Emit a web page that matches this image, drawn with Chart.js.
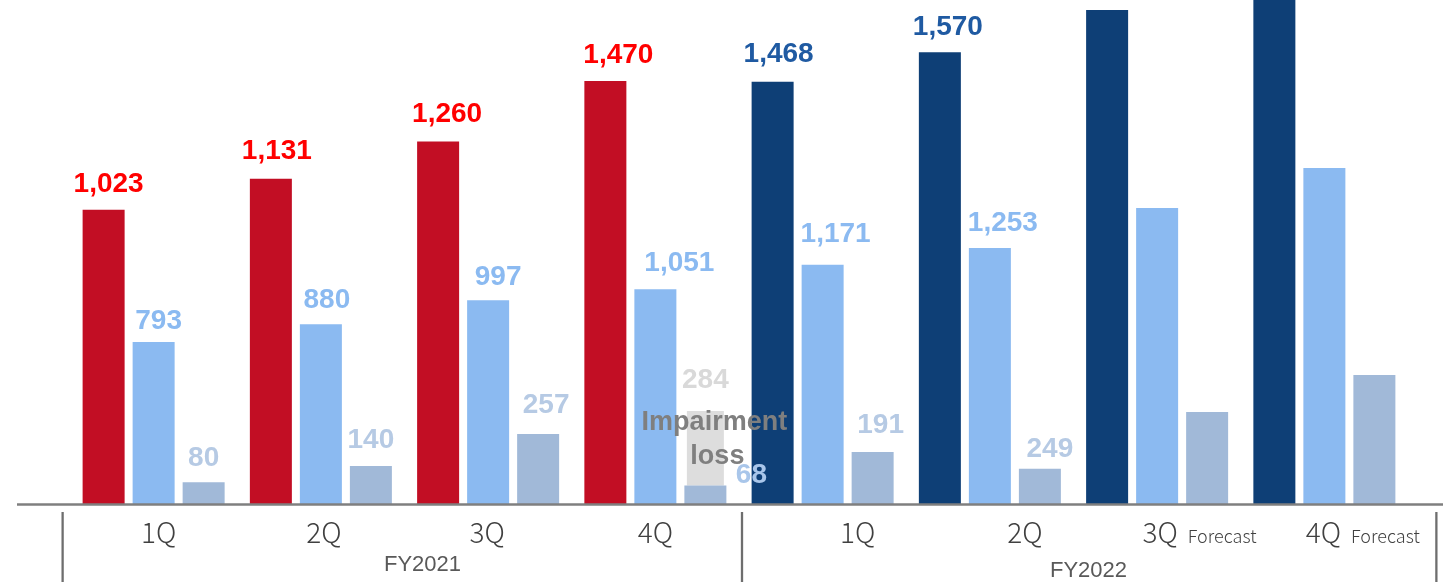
<!DOCTYPE html>
<html>
<head>
<meta charset="utf-8">
<script src="https://cdn.jsdelivr.net/npm/chart.js@4"></script>
<style>
  html, body { margin: 0; padding: 0; background: #fff; }
  #wrap { width: 1443px; height: 582px; position: relative; }
</style>
</head>
<body>
<div id="wrap"><canvas id="quarterChart"></canvas></div>
<script>
// quarters, FY2021 then FY2022
const quarters = ['1Q', '2Q', '3Q', '4Q', '1Q', '2Q', '3Q', '4Q'];
const forecast = [false, false, false, false, false, false, true, true];
const fiscalYears = ['FY2021', 'FY2022'];

// bar heights as drawn (forecast bars have no labels in the source)
const sales = [1023, 1131, 1260, 1470, 1468, 1570, 1717, 1800];
const grossProfit = [793, 880, 997, 1051, 1171, 1253, 1449, 1645];
// 2Q FY2022 bar is drawn much shorter than its 249 label in the source
const opIncome = [80, 140, 257, 68, 191, 130, 338, 474];
const impairment = [0, 0, 0, 274, 0, 0, 0, 0];

// texts printed above the bars
const salesText = ['1,023', '1,131', '1,260', '1,470', '1,468', '1,570', '', ''];
const grossText = ['793', '880', '997', '1,051', '1,171', '1,253', '', ''];
const opText = ['80', '140', '257', '68', '191', '249', '', ''];
const impairmentText = ['', '', '', '284', '', '', '', ''];

const RED = '#C20E24';
const NAVY = '#0E3F76';

const labelFont = 'bold 28px "Liberation Sans", Arial, sans-serif';

// the source labels are not centred exactly on their bars: [dx, gap above bar]
const labelNudge = {
  'Net sales': [[5, 18], [6, 20], [9, 20], [13, 18], [6, 20], [8, 17]],
  'Gross profit': [[5, 13], [6, 16], [10, 15], [24, 18], [13, 23], [13, 17]],
  'Operating income': [[0, 16], [0, 18], [8, 21], [46, 3], [8, 19], [10, 12]],
  'Impairment': [[0, 23], [0, 23], [0, 23], [0, 23]]
};

// value labels above bars
const valueLabels = {
  id: 'valueLabels',
  afterDatasetsDraw(chart) {
    const ctx = chart.ctx;
    ctx.save();
    ctx.font = labelFont;
    ctx.textAlign = 'center';
    ctx.textBaseline = 'alphabetic';
    chart.data.datasets.forEach((ds, di) => {
      const meta = chart.getDatasetMeta(di);
      meta.data.forEach((bar, i) => {
        const txt = ds.valueText[i];
        if (!txt) return;
        const [dx, gap] = labelNudge[ds.label][i] || [0, 16];
        ctx.fillStyle = typeof ds.textColor === 'function' ? ds.textColor(i) : ds.textColor;
        ctx.fillText(txt, bar.x + dx, bar.y - gap);
      });
    });
    // note on the impairment bar
    const imp = chart.getDatasetMeta(3).data[3];
    ctx.fillStyle = '#7F7F7F';
    ctx.font = 'bold 27px "Liberation Sans", Arial, sans-serif';
    ctx.fillText('Impairment', imp.x + 9, 430);
    ctx.fillText('loss', imp.x + 12, 464);
    ctx.restore();
  }
};

// bottom axis line, separators, quarter and fiscal year texts
const bottomAxis = {
  id: 'bottomAxis',
  afterDraw(chart) {
    const ctx = chart.ctx;
    const xs = chart.scales.x;
    const area = chart.chartArea;
    const p = i => xs.getPixelForValue(i);
    ctx.save();
    ctx.strokeStyle = '#7F7F7F';
    ctx.lineWidth = 2.5;
    ctx.beginPath();
    ctx.moveTo(17, area.bottom + 0.5);
    ctx.lineTo(chart.width, area.bottom + 0.5);
    ctx.stroke();

    ctx.strokeStyle = '#6E6E6E';
    ctx.lineWidth = 2.3;
    const seps = [p(0) - 91, (p(3) + p(4)) / 2 + 3, p(7) + 112];
    seps.forEach(x => {
      ctx.beginPath();
      ctx.moveTo(x, area.bottom + 8);
      ctx.lineTo(x, chart.height);
      ctx.stroke();
    });

    const shift = [5, 3, -1, 0, 35, 35, 3, -1];
    ctx.fillStyle = '#404040';
    ctx.textBaseline = 'alphabetic';
    quarters.forEach((q, i) => {
      const cx = p(i) + shift[i];
      ctx.font = '300 28px "Noto Sans CJK JP", "Noto Sans", sans-serif';
      ctx.textAlign = 'center';
      ctx.fillText(q, cx, 543);
      if (forecast[i]) {
        const w = ctx.measureText(q).width;
        ctx.font = '300 18px "Noto Sans CJK JP", "Noto Sans", sans-serif';
        ctx.textAlign = 'left';
        ctx.fillText('Forecast', cx + w / 2 + 10, 543);
      }
    });

    ctx.fillStyle = '#595959';
    ctx.font = '22px "Liberation Sans", Arial, sans-serif';
    ctx.textAlign = 'center';
    ctx.fillText(fiscalYears[0], (p(0) + p(3)) / 2 + 18, 571);
    ctx.fillText(fiscalYears[1], (p(4) + p(7)) / 2 + 15, 577);
    ctx.restore();
  }
};

const chart = new Chart(document.getElementById('quarterChart'), {
  type: 'bar',
  data: {
    labels: quarters,
    datasets: [
      {
        label: 'Net sales',
        data: sales,
        backgroundColor: sales.map((v, i) => i < 4 ? RED : NAVY),
        yAxisID: 'ySales',
        stack: 'sales',
        valueText: salesText,
        textColor: i => i < 4 ? '#FF0000' : '#1F5AA2'
      },
      {
        label: 'Gross profit',
        data: grossProfit,
        backgroundColor: '#8BBAF1',
        yAxisID: 'yGross',
        stack: 'gross',
        valueText: grossText,
        textColor: '#8BBAF1'
      },
      {
        label: 'Operating income',
        data: opIncome,
        backgroundColor: '#A1B9D8',
        yAxisID: 'yOp',
        stack: 'op',
        valueText: opText,
        textColor: i => i === 3 ? '#A9C6EA' : '#B6CAE4'
      },
      {
        label: 'Impairment',
        data: impairment,
        backgroundColor: '#DDDDDD',
        yAxisID: 'yOp',
        stack: 'op',
        barPercentage: 0.74,
        valueText: impairmentText,
        textColor: '#D9D9D9'
      }
    ]
  },
  options: {
    responsive: true,
    maintainAspectRatio: false,
    animation: false,
    layout: { padding: { left: 70, right: 35, top: 0, bottom: 78 } },
    datasets: {
      bar: { categoryPercentage: 0.897, barPercentage: 0.84 }
    },
    plugins: {
      legend: { display: false },
      tooltip: { enabled: false }
    },
    scales: {
      x: { display: false },
      ySales: { display: false, min: 0, max: 1752 },
      yGross: { display: false, min: 0, max: 2467 },
      yOp: { display: false, min: 0, max: 1853 }
    }
  },
  plugins: [valueLabels, bottomAxis]
});
</script>
</body>
</html>
